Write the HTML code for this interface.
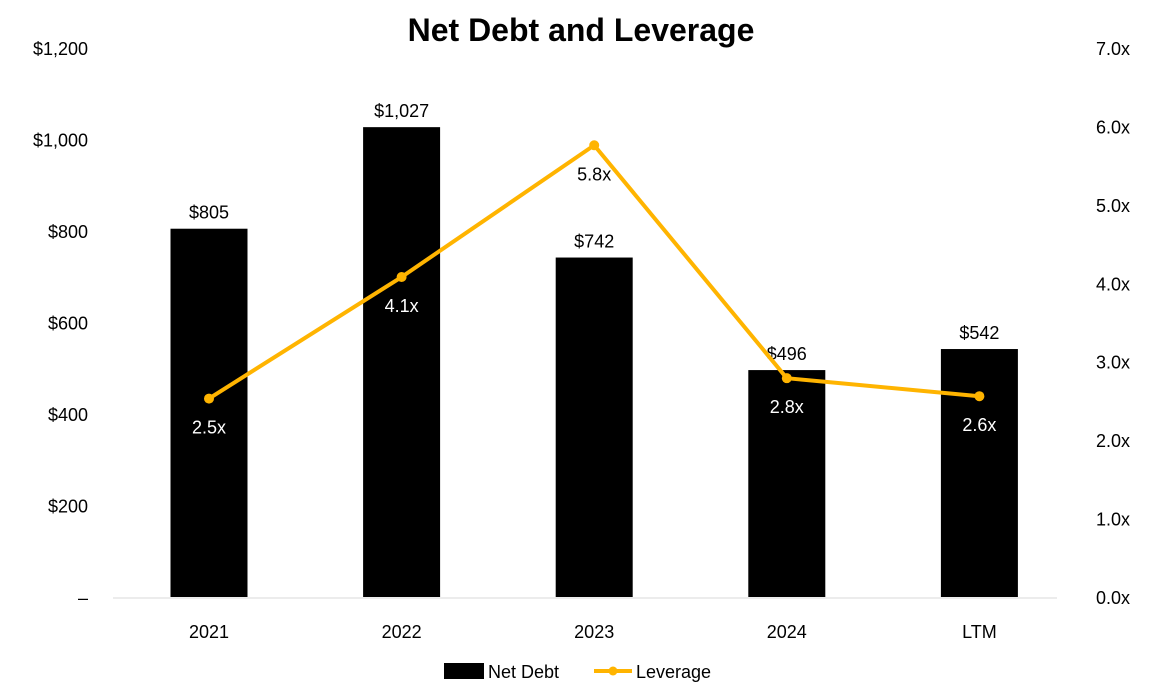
<!DOCTYPE html>
<html><head><meta charset="utf-8"><style>
body{margin:0;background:#fff;}
svg{display:block;font-family:"Liberation Sans",sans-serif;}
</style></head><body>
<svg id="chart" width="1165" height="696">
<text x="581" y="41" text-anchor="middle" font-size="32" font-weight="bold" fill="#000">Net Debt and Leverage</text>
<g id="g"></g>
<g>
<rect x="444" y="663" width="40" height="16" fill="#000"/>
<text x="488" y="678" font-size="18" fill="#000">Net Debt</text>
<line x1="594" y1="671" x2="632" y2="671" stroke="#FFB400" stroke-width="4"/>
<circle cx="613" cy="671" r="4.5" fill="#FFB400"/>
<text x="636" y="678" font-size="18" fill="#000">Leverage</text>
</g>
</svg>
<script>
const categories=["2021","2022","2023","2024","LTM"];
const netDebt=[805,1027,742,496,542];
const leverage=[2.53,4.08,5.76,2.79,2.56];
const leftTicks=[0,200,400,600,800,1000,1200];
const leftTickLabels=["–","$200","$400","$600","$800","$1,000","$1,200"];
const rightTicks=[0,1,2,3,4,5,6,7];
const ns="http://www.w3.org/2000/svg";
const g=document.getElementById('g');
const y0=597,yTop=48;
const yL=v=>y0-(v/1200)*(y0-yTop);
const yR=v=>y0-(v/7)*(y0-yTop);
const xC=i=>209+i*192.6;
function mk(t,a,txt){const e=document.createElementNS(ns,t);for(const k in a)e.setAttribute(k,a[k]);if(txt!=null)e.textContent=txt;g.appendChild(e);return e;}
leftTicks.forEach((v,i)=>{const e=mk('text',{x:88,y:yL(v)+7,'text-anchor':'end','font-size':18,fill:'#000'},leftTickLabels[i]);

});
rightTicks.forEach(v=>{const e=mk('text',{x:1096,y:yR(v)+7,'font-size':18,fill:'#000'},v.toFixed(1)+'x');

});
const base=mk('line',{x1:113,y1:y0+1,x2:1057,y2:y0+1,stroke:'#d9d9d9','stroke-width':1});


categories.forEach((c,i)=>{
const b=mk('rect',{x:xC(i)-38.5,y:yL(netDebt[i]),width:77,height:y0-yL(netDebt[i]),fill:'#000'});


const l=mk('text',{x:xC(i),y:yL(netDebt[i])-10,'text-anchor':'middle','font-size':18,fill:'#000'},'$'+netDebt[i].toLocaleString('en-US'));


const t=mk('text',{x:xC(i),y:638,'text-anchor':'middle','font-size':18,fill:'#000'},c);


});
const pts=leverage.map((v,i)=>xC(i)+','+yR(v)).join(' ');
const pl=mk('polyline',{points:pts,fill:'none',stroke:'#FFB400','stroke-width':4,'stroke-linejoin':'round'});


leverage.forEach((v,i)=>{
const c=mk('circle',{cx:xC(i),cy:yR(v),r:5,fill:'#FFB400'});


const inBar=yR(v)+28>yL(netDebt[i]);
const t=mk('text',{x:xC(i),y:yR(v)+35,'text-anchor':'middle','font-size':18,fill:inBar?'#fff':'#000'},v.toFixed(1)+'x');


});
</script>
</body></html>
